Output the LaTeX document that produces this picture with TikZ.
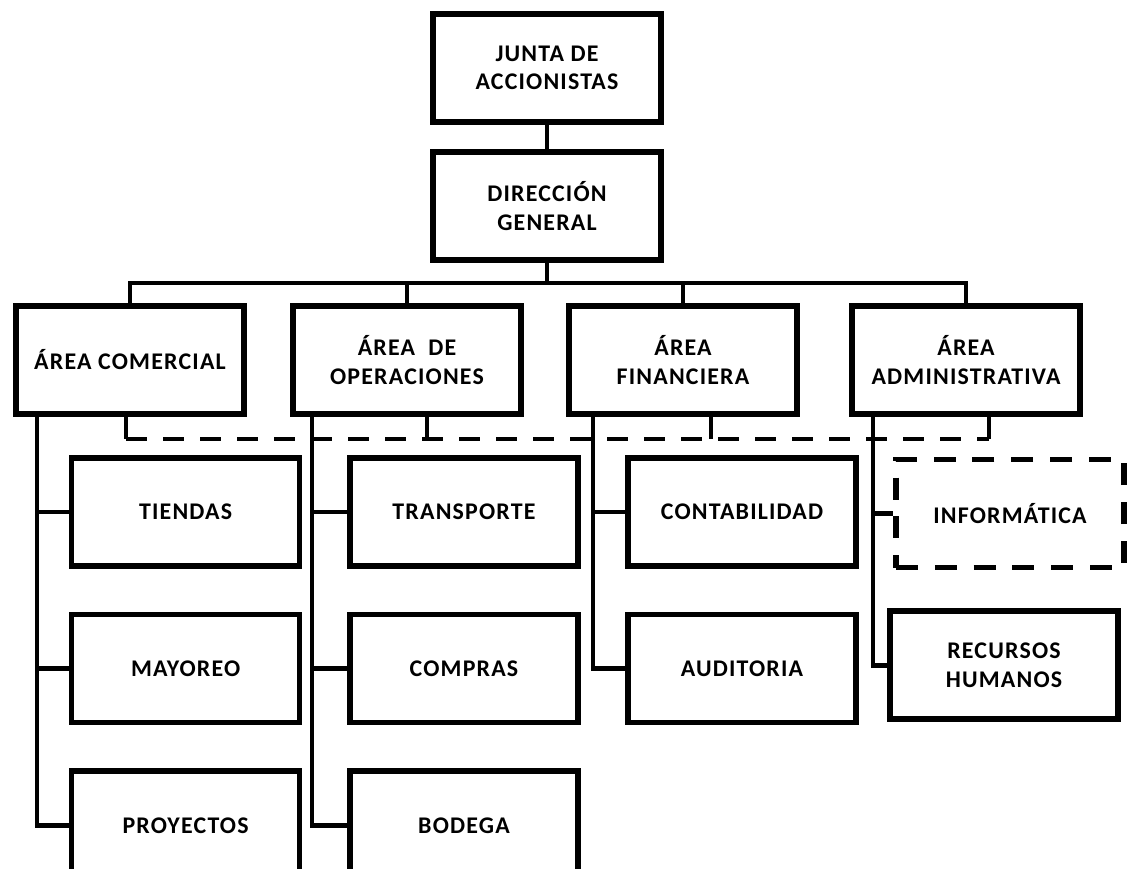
\documentclass[tikz,border=0pt]{standalone}
\usepackage{fontspec}
\setmainfont{Carlito}[LetterSpace=5]
\usepackage{xcolor}
\usepackage{tikz}
\usetikzlibrary{positioning, calc}
\tikzset{
    box/.style={rectangle, minimum width=5.7cm, minimum height=2.7cm, align=center, draw=ink, line width=4pt, fill=white, font=\fontsize{17}{20}\selectfont\bfseries},
    dashbox/.style={box, dash pattern=on 0.55cm off 0.42cm},
    conn/.style={line width=3.4pt, color=ink},
    dashline/.style={conn, dash pattern=on 0.525cm off 0.4cm}
}
\definecolor{ink}{RGB}{0,0,0}

\begin{document}
\begin{tikzpicture}[node distance=1.075cm]
    \useasboundingbox (0,0) rectangle (28.2,-21.7);

    % Nodes - top of the chart
    \node (junta) [box] at (13.675,-1.7) {JUNTA DE\\ACCIONISTAS};
    \node (dg) [box] at (13.675,-5.15) {DIRECCIÓN\\GENERAL};

    % Areas
    \node (com) [box] at (3.25,-9.0) {ÁREA COMERCIAL};
    \node (ope) [box] at (10.175,-9.0) {ÁREA~~DE\\OPERACIONES};
    \node (fin) [box] at (17.075,-9.0) {ÁREA\\FINANCIERA};
    \node (adm) [box] at (24.15,-9.0) {ÁREA\\ADMINISTRATIVA};

    % Departments
    \node (tiend) [box] at (4.64,-12.8) {TIENDAS};
    \node (mayo) [box, below=of tiend] {MAYOREO};
    \node (proy) [box, below=of mayo] {PROYECTOS};
    \node (transp) [box] at (11.6,-12.8) {TRANSPORTE};
    \node (compr) [box, below=of transp] {COMPRAS};
    \node (bodeg) [box, below=of compr] {BODEGA};
    \node (conta) [box] at (18.55,-12.8) {CONTABILIDAD};
    \node (audit) [box, below=of conta] {AUDITORIA};
    \node (info) [dashbox] at (25.25,-12.84) {INFORMÁTICA};
    \node (rrhh) [box] at (25.1,-16.63) {RECURSOS\\HUMANOS};

    % Bus, spines and dashed link
    \coordinate (bus) at (0,-7.075);
    \coordinate (sc) at (0.925,0);
    \coordinate (so) at (7.8,0);
    \coordinate (sf) at (14.825,0);
    \coordinate (sa) at (21.825,0);
    \coordinate (d1) at (3.15,-10.975);
    \coordinate (d2) at (10.675,-10.975);
    \coordinate (d3) at (17.775,-10.975);
    \coordinate (d4) at (24.725,-10.975);

    % Lines
    \draw [conn] (junta) -- (dg);
    \draw [conn] (dg.south) -- (dg.south |- bus);
    \draw [conn] (com.north) -- (com.north |- bus) -- (adm.north |- bus) -- (adm.north);
    \draw [conn] (ope.north) -- (ope.north |- bus);
    \draw [conn] (fin.north) -- (fin.north |- bus);

    \draw [conn] (sc |- com.south) |- (proy.west);
    \draw [conn] (sc |- tiend.west) -- (tiend.west);
    \draw [conn] (sc |- mayo.west) -- (mayo.west);
    \draw [conn] (so |- ope.south) |- (bodeg.west);
    \draw [conn] (so |- transp.west) -- (transp.west);
    \draw [conn] (so |- compr.west) -- (compr.west);
    \draw [conn] (sf |- fin.south) |- (audit.west);
    \draw [conn] (sf |- conta.west) -- (conta.west);
    \draw [conn] (sa |- adm.south) |- (rrhh.west);
    \draw [conn] (sa |- info.west) -- (info.west);

    \draw [conn] (d1 |- com.south) -- (d1);
    \draw [conn] (d2 |- ope.south) -- (d2);
    \draw [conn] (d3 |- fin.south) -- (d3);
    \draw [conn] (d4 |- adm.south) -- (d4);
    \draw [dashline] (d1) -- (d4);
\end{tikzpicture}
\end{document}
